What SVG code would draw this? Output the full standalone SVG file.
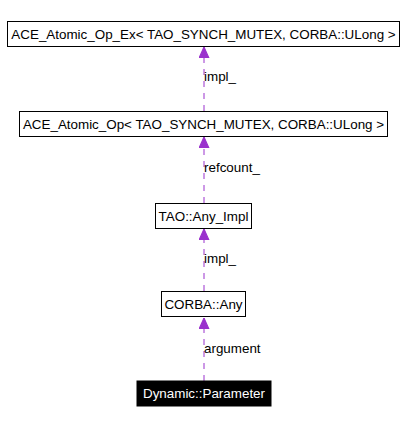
<svg xmlns="http://www.w3.org/2000/svg" width="406" height="424" viewBox="0 0 406 424">
<defs>
<style>
.box{fill:#fff;stroke:#000;stroke-width:1}
.t{font-family:"Liberation Sans",Arial,sans-serif;font-size:13.4px;fill:#000}
.e{stroke:#9a32cd;stroke-width:1;stroke-dasharray:6,6;fill:none}
.lbl{font-family:"Liberation Sans",Arial,sans-serif;font-size:13.4px;fill:#000}
</style>
<marker id="ah" viewBox="0 0 10 10" refX="10" refY="5" markerWidth="11" markerHeight="11" markerUnits="userSpaceOnUse" orient="auto">
<path d="M0,0.5 L10,5 L0,9.5 Z" fill="#9a32cd" stroke="#9a32cd"/>
</marker>
</defs>
<rect width="406" height="424" fill="#fff"/>
<g id="edges">
<line class="e" x1="204" y1="381" x2="204" y2="318" marker-end="url(#ah)"/>
<text class="lbl" x="204" y="353">argument</text>
<line class="e" x1="204" y1="291" x2="204" y2="229" marker-end="url(#ah)"/>
<text class="lbl" x="204" y="263">impl_</text>
<line class="e" x1="204" y1="203" x2="204" y2="137" marker-end="url(#ah)"/>
<text class="lbl" x="204" y="172">refcount_</text>
<line class="e" x1="204" y1="111" x2="204" y2="47" marker-end="url(#ah)"/>
<text class="lbl" x="204" y="81">impl_</text>
</g>
<g id="node_ace_ex">
<rect class="box" x="7.5" y="21.5" width="392" height="25"/>
<text class="t" x="203.5" y="39" text-anchor="middle">ACE_Atomic_Op_Ex&lt; TAO_SYNCH_MUTEX, CORBA::ULong &gt;</text>
</g>
<g id="node_ace">
<rect class="box" x="19.5" y="111.5" width="368" height="25"/>
<text class="t" x="203.5" y="129" text-anchor="middle">ACE_Atomic_Op&lt; TAO_SYNCH_MUTEX, CORBA::ULong &gt;</text>
</g>
<g id="node_any_impl">
<rect class="box" x="155.5" y="203.5" width="96" height="25"/>
<text class="t" x="203.5" y="221" text-anchor="middle">TAO::Any_Impl</text>
</g>
<g id="node_any">
<rect class="box" x="161.5" y="291.5" width="84" height="25"/>
<text class="t" x="203.5" y="309" text-anchor="middle">CORBA::Any</text>
</g>
<g id="node_param">
<rect x="137" y="381" width="134" height="25" fill="#000" stroke="#000"/>
<text class="t" x="204" y="398" text-anchor="middle" style="fill:#fff">Dynamic::Parameter</text>
</g>
</svg>
